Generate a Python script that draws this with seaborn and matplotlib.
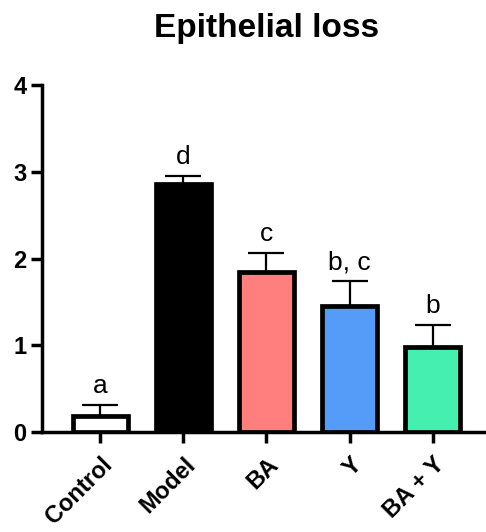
import matplotlib
matplotlib.use("Agg")
import matplotlib.pyplot as plt
import seaborn as sns
import pandas as pd
import numpy as np

categories = ["Control", "Model", "BA", "Y", "BA + Y"]
means = [0.18, 2.86, 1.85, 1.45, 0.98]
sem = [0.13, 0.09, 0.21, 0.29, 0.25]
letters = ["a", "d", "c", "b, c", "b"]
colors = ["#FFFFFF", "#000000", "#FF7F7F", "#559CF9", "#44EFB0"]
yticks = [0, 1, 2, 3, 4]

sns.set_style("ticks", {"axes.edgecolor": "black", "xtick.color": "black",
                        "ytick.color": "black", "text.color": "black",
                        "axes.labelcolor": "black"})
plt.rcParams['font.family'] = ['Liberation Sans', 'DejaVu Sans']

df = pd.DataFrame({"group": categories, "value": means})

fig = plt.figure(figsize=(4.86, 5.32), dpi=100)
ax = fig.add_axes([42/486, 1-432/532, 1-42/486, (432-85)/532])

sns.barplot(data=df, x="group", y="value", hue="group", palette=colors,
            order=categories, hue_order=categories, legend=False, saturation=1,
            width=0.66, edgecolor="black", linewidth=3.4, ax=ax, zorder=3)

x = np.arange(len(categories))
ax.errorbar(x, means, yerr=[np.zeros(len(sem)), sem], fmt="none",
            ecolor="black", elinewidth=1.6, capsize=13, capthick=1.6, zorder=2)

for xi, m, s, lab in zip(x, means, sem, letters):
    ax.text(xi, m + s + 0.08, lab, ha="center", va="bottom", fontsize=19,
            color="black")

ax.set_ylim(0, 4)
ax.set_xlim(-0.7, 4.64)
ax.set_yticks(yticks)
ax.set_yticklabels([str(t) for t in yticks], fontsize=17, fontweight="bold")
ax.set_xticks(x)
ax.set_xticklabels(categories, rotation=45, ha="right", rotation_mode="anchor",
                   fontsize=17, fontweight="bold")
ax.set_xlabel("")
ax.set_ylabel("")
for side in ["top", "right"]:
    ax.spines[side].set_visible(False)
for side in ["left", "bottom"]:
    ax.spines[side].set_linewidth(2.5)
ax.tick_params(axis="both", width=2.5, length=8, direction="out", colors="black")
ax.tick_params(axis="y", pad=3)
ax.tick_params(axis="x", pad=7)

fig.text(267 / 486, 1 - 29/532, "Epithelial loss", ha="center", va="center",
         fontsize=24, fontweight="bold", color="black")

fig.savefig("out.png", dpi=100)
